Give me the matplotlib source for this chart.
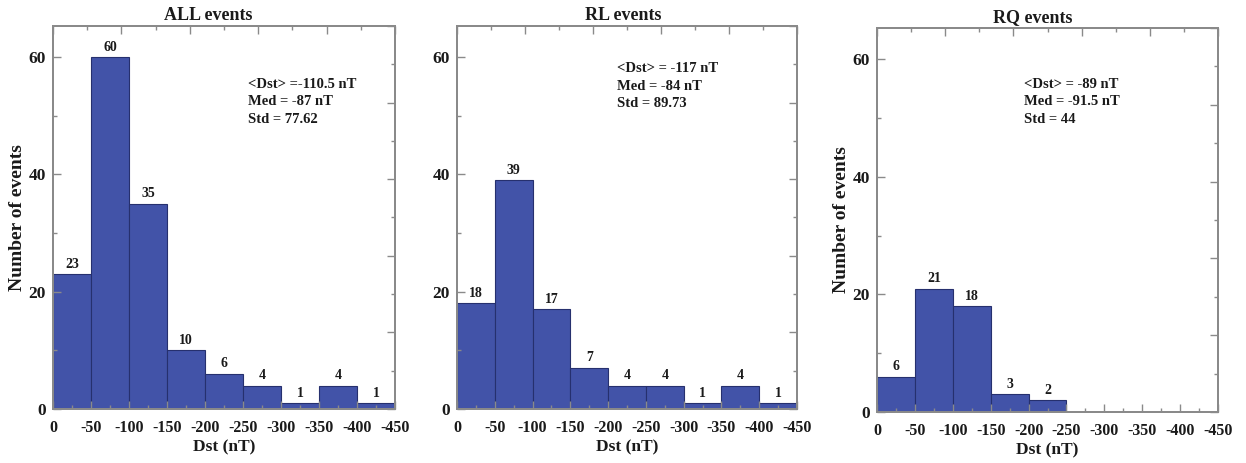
import numpy as np
import matplotlib
matplotlib.use("Agg")
import matplotlib.pyplot as plt
from matplotlib.ticker import MultipleLocator

plt.rcParams['font.family'] = ['Liberation Serif', 'DejaVu Serif']
plt.rcParams['font.weight'] = 'bold'

# Dst bins (nT), left edges of each 50 nT bin
bin_edges = [0, -50, -100, -150, -200, -250, -300, -350, -400]
bin_width = -50

all_counts = [23, 60, 35, 10, 6, 4, 1, 4, 1]
rl_counts = [18, 39, 17, 7, 4, 4, 1, 4, 1]
rq_counts = [6, 21, 18, 3, 2, 0, 0, 0, 0]

titles = ["ALL events", "RL events", "RQ events"]
stats = [
    "<Dst> =-110.5 nT\nMed = -87 nT\nStd = 77.62",
    "<Dst> = -117 nT\nMed = -84 nT\nStd = 89.73",
    "<Dst> = -89 nT\nMed = -91.5 nT\nStd = 44",
]
xticks = [0, -50, -100, -150, -200, -250, -300, -350, -400, -450]

bar_color = "#4253a8"
edge_color = "#26306e"
spine_color = "#8a8a8a"
text_color = "#1a1a1a"

fig = plt.figure(figsize=(12.46, 4.63), dpi=100)

rects = [
    [0.0425, 0.1166, 0.2745, 0.8274],
    [0.3668, 0.1166, 0.2728, 0.8274],
    [0.7039, 0.1100, 0.2736, 0.8295],
]
stat_pos = [(0.57, 0.865), (0.47, 0.905), (0.43, 0.87)]
title_x = [0.453, 0.488, 0.457]
ylabels = [True, False, True]

for rect, counts, title, tx, stat, (sx, sy), has_ylabel in zip(
        rects, [all_counts, rl_counts, rq_counts], titles, title_x, stats,
        stat_pos, ylabels):
    ax = fig.add_axes(rect)
    bars = ax.bar(bin_edges, counts, width=bin_width, align='edge',
                  color=bar_color, edgecolor=edge_color, linewidth=0.8)
    for b, c in zip(bars, counts):
        if c > 0:
            ax.annotate(str(c), (b.get_x() + b.get_width() / 2, c),
                        xytext=(0, 2.5), textcoords='offset points',
                        ha='center', va='bottom', fontsize=10,
                        fontweight='bold', color=text_color)
    ax.set_xlim(0, -450)
    ax.set_ylim(0, 65.3)
    ax.set_xticks(xticks)
    ax.set_xticklabels([str(t) for t in xticks])
    ax.xaxis.set_minor_locator(MultipleLocator(25))
    ax.set_yticks([0, 20, 40, 60])
    ax.yaxis.set_minor_locator(MultipleLocator(10))
    ax.tick_params(which='both', direction='in', colors=spine_color,
                   labelcolor=text_color, width=1)
    ax.tick_params(axis='x', labelsize=11.5, pad=8)
    ax.tick_params(axis='y', labelsize=12.5, pad=5)
    ax.tick_params(which='major', length=6)
    ax.tick_params(which='minor', length=3)
    for lab in ax.get_xticklabels() + ax.get_yticklabels():
        lab.set_fontweight('bold')
    for sp in ax.spines.values():
        sp.set_color(spine_color)
        sp.set_linewidth(1.2)

    ax.set_title(title, fontsize=13, fontweight='bold', color=text_color,
                 pad=4, x=tx)
    ax.set_xlabel("Dst (nT)", fontsize=12.5, fontweight='bold',
                  color=text_color, labelpad=2)
    if has_ylabel:
        ax.set_ylabel("Number of events", fontsize=14, fontweight='bold',
                      color=text_color, labelpad=2)

    ax.text(sx, sy, stat, transform=ax.transAxes, ha='left', va='top',
            fontsize=10.5, fontweight='bold', color=text_color, linespacing=1.45)

    # secondary frame ticks on the top and right edges
    top = ax.twiny()
    top.set_xlim(0, 10)
    top.xaxis.set_major_locator(MultipleLocator(2))
    top.xaxis.set_minor_locator(MultipleLocator(1))
    top.tick_params(which='both', direction='in', colors=spine_color,
                    labeltop=False, width=1)
    top.tick_params(which='major', length=6)
    top.tick_params(which='minor', length=3)
    right = ax.twinx()
    right.set_ylim(0, 10)
    right.yaxis.set_major_locator(MultipleLocator(2))
    right.yaxis.set_minor_locator(MultipleLocator(1))
    right.tick_params(which='both', direction='in', colors=spine_color,
                      labelright=False, width=1)
    right.tick_params(which='major', length=6)
    right.tick_params(which='minor', length=3)
    for a in (top, right):
        for sp in a.spines.values():
            sp.set_color(spine_color)
            sp.set_linewidth(1.2)

fig.savefig("out.png", dpi=100, facecolor='white')
